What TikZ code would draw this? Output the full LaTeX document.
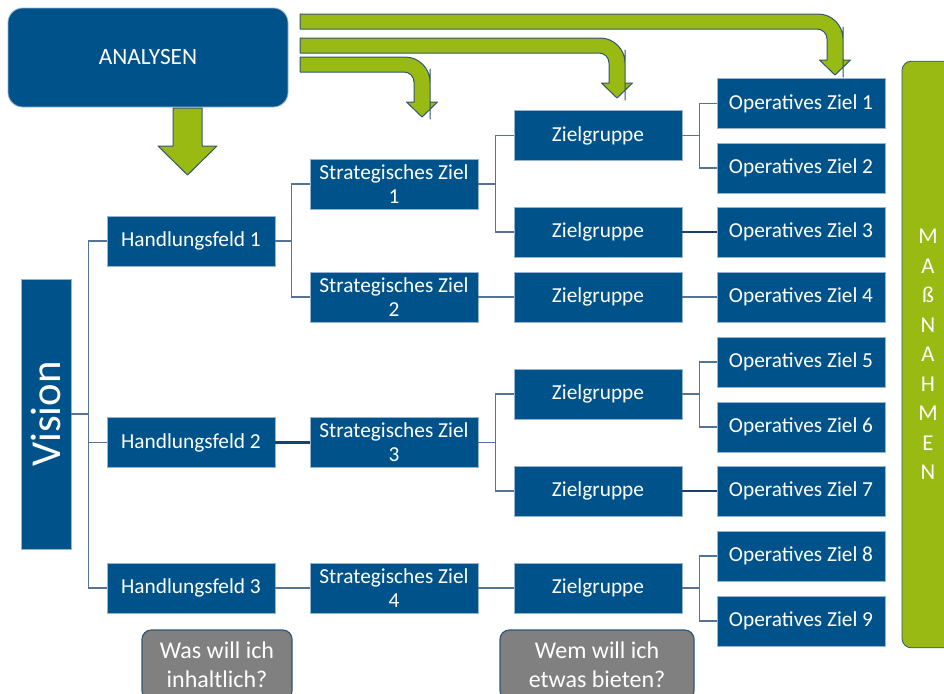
\documentclass[tikz,border=0pt]{standalone}
\usepackage{fontspec}
\setmainfont{Carlito}
\usetikzlibrary{calc}

\definecolor{boxblue}{RGB}{0,83,138}
\definecolor{boxrim}{RGB}{150,180,210}
\definecolor{linkblue}{RGB}{85,115,150}
\definecolor{linkdark}{RGB}{25,65,105}
\definecolor{leafgreen}{RGB}{152,186,18}
\definecolor{arrowrim}{RGB}{50,85,115}
\definecolor{askgray}{RGB}{128,128,128}

\tikzset{
    treebox/.style={draw=boxrim, fill=boxblue, text=white, line width=0.6pt,
        minimum width=126pt, minimum height=37.5pt, inner sep=0pt,
        align=center, font=\fontsize{16}{18}\selectfont},
    conn/.style={draw=linkblue, line width=1.1pt},
    connbold/.style={draw=linkdark, line width=1.6pt},
    greenarrow/.style={fill=leafgreen, draw=arrowrim, line width=0.75pt,
        line join=round},
    askbox/.style={draw=arrowrim, fill=askgray, text=white, line width=0.9pt,
        rounded corners=7pt, inner sep=0pt, align=center,
        minimum height=52.5pt, font=\fontsize{18}{21.5}\selectfont},
}

% bent arrow: shaft centre x, shaft top y, head top y
\newcommand{\bentarrow}[3]{%
    \draw[greenarrow] (300,#2) [rounded corners=18.75pt] -| ({#1+8},{#3-8})
        [sharp corners] -- ({#1+8},#3) -- ({#1+15.5},#3) -- (#1,{#3+15})
        -- ({#1-15.5},#3) -- ({#1-8},#3) -- ({#1-8},{#3-8})
        [rounded corners=7.5pt] |- (310,{#2+15})
        [sharp corners] -- (300,{#2+15}) -- cycle;}

\begin{document}
\begin{tikzpicture}[x=0.75pt, y=-0.75pt]

\clip (0,0) rectangle (944,693);

% =============================================================================
% Analysen and green arrows
% =============================================================================
\node[treebox, rounded corners=11pt, minimum width=210pt, minimum height=74.25pt,
      font=\fontsize{17.5}{20}\selectfont]
    (ana) at (148,57.5) {ANALYSEN};

% Arrow down to the tree
\draw[greenarrow] (173,108) -- (202,108) -- (202,146) -- (217,146)
    -- (187.5,175) -- (158,146) -- (173,146) -- cycle;

% Arrows to the three right-hand levels
\bentarrow{422}{57}{102}
\bentarrow{617}{38}{83}
\bentarrow{835}{14}{60}

% =============================================================================
% Tree boxes
% =============================================================================
\node[treebox, minimum width=37.5pt, minimum height=202.5pt]
    (vis) at (46,414) {\rotatebox{90}{\fontsize{32}{36}\selectfont Vision}};

% Handlungsfelder
\node[treebox] (hf1) at (191,241) {Handlungsfeld 1};
\node[treebox] (hf2) at (191,442.5) {Handlungsfeld 2};
\node[treebox] (hf3) at (191,588) {Handlungsfeld 3};

% Strategische Ziele
\node[treebox] (sz1) at (394,184) {Strategisches Ziel\\1};
\node[treebox] (sz2) at (394,297) {Strategisches Ziel\\2};
\node[treebox] (sz3) at (394,442.5) {Strategisches Ziel\\3};
\node[treebox] (sz4) at (394,588) {Strategisches Ziel\\4};

% Zielgruppen
\node[treebox] (zg1) at (598,135.5) {Zielgruppe};
\node[treebox] (zg2) at (598,232) {Zielgruppe};
\node[treebox] (zg3) at (598,297) {Zielgruppe};
\node[treebox] (zg4) at (598,394) {Zielgruppe};
\node[treebox] (zg5) at (598,491) {Zielgruppe};
\node[treebox] (zg6) at (598,588) {Zielgruppe};

% Operative Ziele
\node[treebox] (oz1) at (801,103.5) {Operatives Ziel 1};
\node[treebox] (oz2) at (801,168) {Operatives Ziel 2};
\node[treebox] (oz3) at (801,232) {Operatives Ziel 3};
\node[treebox] (oz4) at (801,297) {Operatives Ziel 4};
\node[treebox] (oz5) at (801,362) {Operatives Ziel 5};
\node[treebox] (oz6) at (801,427) {Operatives Ziel 6};
\node[treebox] (oz7) at (801,491) {Operatives Ziel 7};
\node[treebox] (oz8) at (801,556) {Operatives Ziel 8};
\node[treebox] (oz9) at (801,621) {Operatives Ziel 9};

% Massnahmen bar
\node[treebox, draw=arrowrim, fill=leafgreen, rounded corners=7pt,
      minimum width=39pt, minimum height=440pt,
      font=\fontsize{17}{22.1}\selectfont]
    (mass) at (928,354.5) {M\\A\\ß\\N\\A\\H\\M\\E\\N};

% Questions
\node[askbox, minimum width=112.5pt] (ask1) at (217,665) {Was will ich\\inhaltlich?};
\node[askbox, minimum width=145.5pt] (ask2) at (597,665) {Wem will ich\\etwas bieten?};

% =============================================================================
% Connectors
% =============================================================================
\draw[connbold] (vis.east) -- ++(18,0);
\draw[conn] (hf1.west) -- ++(-18,0) |- (vis.east);
\draw[conn] (hf2.west) -- ++(-18,0) |- (vis.east);
\draw[conn] (hf3.west) -- ++(-18,0) |- (vis.east);

\draw[conn] (sz1.west) -- ++(-18,0) |- (hf1.east);
\draw[conn] (sz2.west) -- ++(-18,0) |- (hf1.east);
\draw[connbold] (hf2) -- (sz3);
\draw[conn] (hf3) -- (sz4);

\draw[conn] (zg1.west) -- ++(-18,0) |- (sz1.east);
\draw[conn] (zg2.west) -- ++(-18,0) |- (sz1.east);
\draw[conn] (sz2) -- (zg3);
\draw[conn] (zg4.west) -- ++(-18,0) |- (sz3.east);
\draw[conn] (zg5.west) -- ++(-18,0) |- (sz3.east);
\draw[conn] (sz4) -- (zg6);

\draw[conn] (oz1.west) -- ++(-17,0) |- (zg1.east);
\draw[conn] (oz2.west) -- ++(-17,0) |- (zg1.east);
\draw[connbold] (zg2) -- (oz3);
\draw[conn] (zg3) -- (oz4);
\draw[conn] (oz5.west) -- ++(-17,0) |- (zg4.east);
\draw[conn] (oz6.west) -- ++(-17,0) |- (zg4.east);
\draw[connbold] (zg5) -- (oz7);
\draw[conn] (oz8.west) -- ++(-17,0) |- (zg6.east);
\draw[conn] (oz9.west) -- ++(-17,0) |- (zg6.east);

\end{tikzpicture}
\end{document}
